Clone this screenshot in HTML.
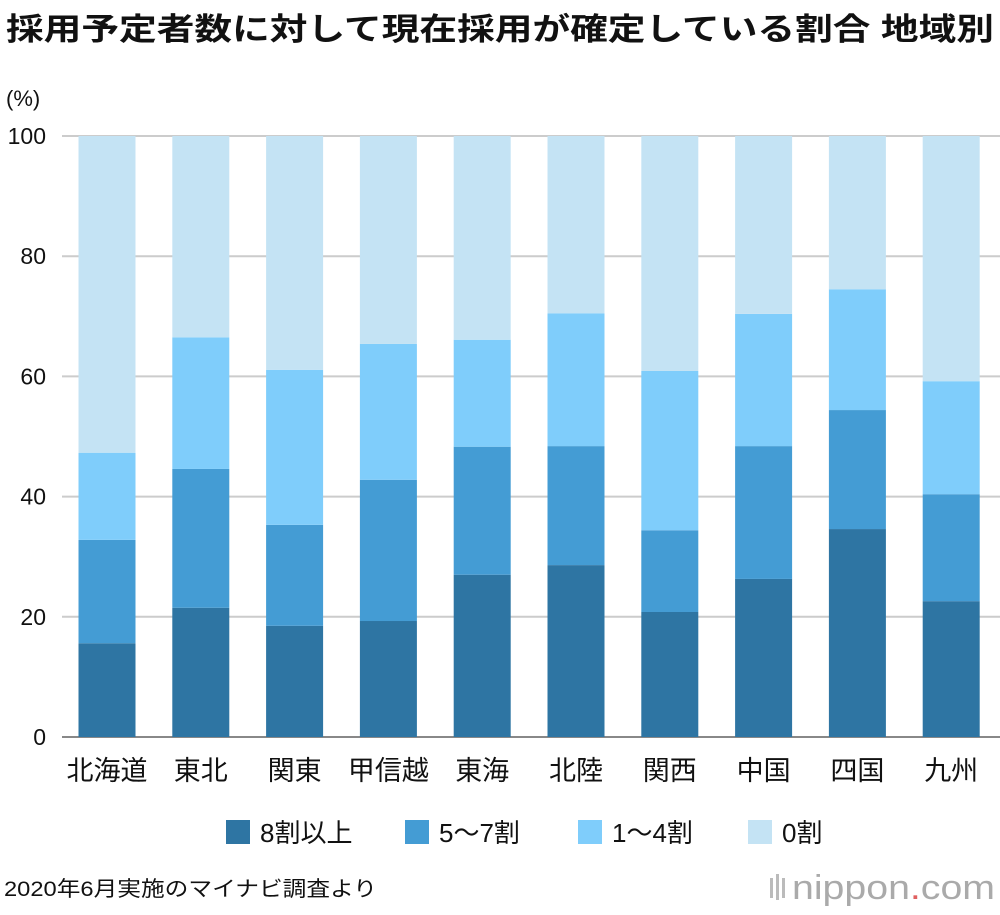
<!DOCTYPE html>
<html><head><meta charset="utf-8"><style>
body{margin:0;background:#fff;width:1000px;height:910px;overflow:hidden;font-family:"Liberation Sans","Noto Sans CJK JP",sans-serif;}
</style></head><body>
<svg width="1000" height="910" xmlns="http://www.w3.org/2000/svg" id="chart" font-family="Liberation Sans, Noto Sans CJK JP, sans-serif">
<text x="6" y="40" font-size="31" font-weight="bold" fill="#111" textLength="988" lengthAdjust="spacingAndGlyphs">採用予定者数に対して現在採用が確定している割合 地域別</text>
<text x="6" y="106" font-size="22" fill="#111">(%)</text>
<g id="grid"></g><g id="bars"></g><g id="xl"></g><g id="legend"></g>
<text x="4" y="896" font-size="21" fill="#111" textLength="373" lengthAdjust="spacingAndGlyphs">2020年6月実施のマイナビ調査より</text>
<g>
<rect x="770" y="878" width="3" height="20" fill="#bbb"/><rect x="776" y="874" width="3" height="26" fill="#bbb"/><rect x="782" y="878" width="3" height="20" fill="#bbb"/>
<text x="792" y="899" font-size="34" fill="#aaa" textLength="203" lengthAdjust="spacingAndGlyphs">nippon<tspan fill="#e06060">.</tspan>com</text></g>
</svg>
<script>
const categories=["北海道","東北","関東","甲信越","東海","北陸","関西","中国","四国","九州"];
const s8=[15.6,21.5,18.5,19.3,27.0,28.6,20.8,26.3,34.6,22.6];
const s57=[17.2,23.1,16.8,23.5,21.3,19.8,13.6,22.1,19.8,17.8];
const s14=[14.5,21.9,25.8,22.6,17.8,22.1,26.5,22.0,20.1,18.8];
const yTicks=[0,20,40,60,80,100];
const seriesNames=["8割以上","5〜7割","1〜4割","0割"];
const colors=["#2e75a3","#449cd4","#7fcdfb","#c4e3f4"];
const NS="http://www.w3.org/2000/svg";
const y0=737,y100=136,x0=62,x1=1000;
const Y=v=>y0-(y0-y100)*v/100;
const X=i=>107+i*93.8;
const bw=57;
function mk(t,a,p){const e=document.createElementNS(NS,t);for(const k in a)e.setAttribute(k,a[k]);p.appendChild(e);return e;}
const grid=document.getElementById('grid');
yTicks.forEach(t=>{
 const l=mk('line',{x1:x0,x2:x1,y1:Y(t),y2:Y(t),stroke:t===0?'#888':'#ccc','stroke-width':2},grid);
 
 
 const tx=mk('text',{x:46,y:Y(t)+8,'font-size':23,'text-anchor':'end',fill:'#111'},grid);
 tx.textContent=t;
 
 
});
const bars=document.getElementById('bars');
categories.forEach((c,i)=>{
 const vals=[s8[i],s57[i],s14[i],100-s8[i]-s57[i]-s14[i]];
 let acc=0;
 vals.forEach((v,k)=>{
  const r=mk('rect',{x:X(i)-bw/2,y:Y(acc+v),width:bw,height:Y(acc)-Y(acc+v),fill:colors[k]},bars);
  
  
  acc+=v;
 });
 const t=mk('text',{x:X(i),y:780,'font-size':27,'text-anchor':'middle',fill:'#111'},document.getElementById('xl'));
 t.textContent=c;
 
 
});
const lg=document.getElementById('legend');
const lx=[226,405,578,748];
seriesNames.forEach((n,k)=>{
 const g=mk('g',{},lg);
 
 
 mk('rect',{x:lx[k],y:820,width:24,height:24,fill:colors[k]},g);
 const t=mk('text',{x:lx[k]+34,y:842,'font-size':26,fill:'#111'},g);
 t.textContent=n;
});
</script>
</body></html>
